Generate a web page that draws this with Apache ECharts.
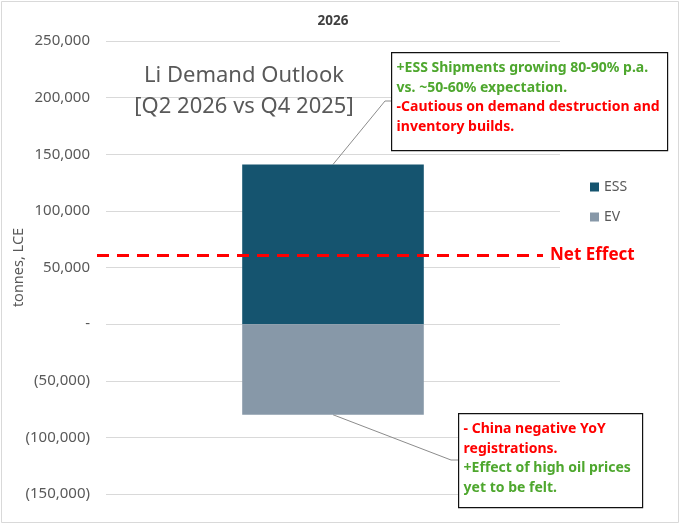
<!DOCTYPE html>
<html>
<head>
<meta charset="utf-8">
<script src="https://cdn.jsdelivr.net/npm/echarts@6/dist/echarts.min.js"></script>
<style>
  html, body { margin: 0; padding: 0; background: #fff; }
  #chart { width: 680px; height: 524px; }
</style>
</head>
<body>
<div id="chart"></div>
<script>
// data
var categories = ['2026'];
var essValues = [141000];
var evValues = [-80000];
var netEffect = [essValues[0] + evValues[0]];
var yMin = -150000, yMax = 250000, yStep = 50000;

var FONT = 'Noto Sans';
var GREY = '#595959';
var GREEN = '#4EA72E';
var RED = '#FF0000';

function fmt(v) {
    if (v === 0) return '-';
    var s = Math.abs(v).toLocaleString('en-US');
    return v < 0 ? '(' + s + ')' : s;
}

var chart = echarts.init(document.getElementById('chart'));

var option = {
    animation: false,
    backgroundColor: '#fff',
    textStyle: { fontFamily: FONT },
    title: {
        text: 'Li Demand Outlook\n[Q2 2026 vs Q4 2025]',
        left: 239, top: 55, textAlign: 'center',
        textStyle: { fontFamily: FONT, fontSize: 22, fontWeight: 'normal', color: GREY, lineHeight: 31 }
    },
    legend: {
        data: ['ESS', 'EV'],
        orient: 'vertical', left: 585, top: 175,
        icon: 'rect', itemWidth: 9, itemHeight: 9, itemGap: 16,
        textStyle: { fontFamily: FONT, fontSize: 14, color: GREY }
    },
    grid: [
        { left: 106, right: 120, top: 41, bottom: 30, outerBoundsMode: 'none' },
        { left: 97, right: 137, top: 41, bottom: 30, outerBoundsMode: 'none' }
    ],
    xAxis: [{
        type: 'category', data: categories, position: 'top', gridIndex: 0,
        axisLine: { show: false }, axisTick: { show: false },
        axisLabel: { fontFamily: FONT, fontSize: 13.5, fontWeight: 'bold', color: '#404040', margin: 13 }
    }, {
        type: 'category', data: categories, gridIndex: 1, show: false
    }],
    yAxis: [{
        type: 'value', min: yMin, max: yMax, interval: yStep, gridIndex: 0,
        name: 'tonnes, LCE', nameLocation: 'middle', nameGap: 80, nameMoveOverlap: false,
        nameTextStyle: { fontFamily: FONT, fontSize: 14.5, color: GREY },
        axisLine: { show: false }, axisTick: { show: false },
        axisLabel: { formatter: fmt, fontFamily: FONT, fontSize: 15, color: GREY, margin: 16 },
        splitLine: { lineStyle: { color: '#D9D9D9', width: 1 } }
    }, {
        type: 'value', min: yMin, max: yMax, gridIndex: 1, show: false
    }],
    series: [{
        name: 'ESS', type: 'bar', stack: 'total', data: essValues,
        barWidth: '40%', itemStyle: { color: '#15546F' }
    }, {
        name: 'EV', type: 'bar', stack: 'total', data: evValues,
        barWidth: '40%', itemStyle: { color: '#8798A8' }
    }, {
        name: 'Net Effect', type: 'line', xAxisIndex: 1, yAxisIndex: 1, data: [null],
        symbol: 'none', silent: true,
        markLine: {
            silent: true, symbol: 'none',
            lineStyle: { color: RED, width: 3, type: [12, 8] },
            label: {
                show: true, position: 'end', formatter: 'Net Effect', distance: 7,
                color: RED, fontFamily: FONT, fontSize: 17, fontWeight: 'bold'
            },
            data: [{ yAxis: netEffect[0] }]
        }
    }]
};

chart.setOption(option);

// annotation boxes, connectors anchored to the bar ends
var cx = chart.convertToPixel({ xAxisIndex: 0 }, categories[0]);
var essTop = chart.convertToPixel({ yAxisIndex: 0 }, essValues[0]);
var evBottom = chart.convertToPixel({ yAxisIndex: 0 }, evValues[0]);

function noteBox(x, y, w, h, lines) {
    var text = lines.map(function (l) { return '{' + l[0] + '|' + l[1] + '}'; }).join('\n');
    var rs = { fontFamily: FONT, fontSize: 14, fontWeight: 'bold', lineHeight: 19.5 };
    return {
        type: 'group', left: x, top: y, children: [
            { type: 'rect', shape: { x: 0, y: 0, width: w, height: h }, style: { fill: '#fff', stroke: '#111', lineWidth: 1.2 } },
            { type: 'text', x: 5, y: 6, style: {
                text: text,
                rich: {
                    g: Object.assign({ fill: GREEN }, rs),
                    r: Object.assign({ fill: RED }, rs)
                }
            } }
        ]
    };
}

chart.setOption({
    graphic: [
        { type: 'rect', shape: { x: 1.5, y: 1.5, width: 677, height: 521 }, style: { fill: 'none', stroke: '#D9D9D9', lineWidth: 1 }, silent: true },
        { type: 'polyline', shape: { points: [[cx, essTop], [385, 101], [391, 101]] }, style: { stroke: '#8C8C8C', lineWidth: 1, fill: 'none' } },
        { type: 'polyline', shape: { points: [[cx, evBottom], [451, 460], [458, 460]] }, style: { stroke: '#8C8C8C', lineWidth: 1, fill: 'none' } },
        noteBox(391, 52, 276, 98, [
            ['g', '+ESS Shipments growing 80-90% p.a.'],
            ['g', 'vs. ~50-60% expectation.'],
            ['r', '-Cautious on demand destruction and'],
            ['r', 'inventory builds.']
        ]),
        noteBox(458, 413, 184, 94, [
            ['r', '- China negative YoY'],
            ['r', 'registrations.'],
            ['g', '+Effect of high oil prices'],
            ['g', 'yet to be felt.']
        ])
    ]
});
</script>
</body>
</html>
